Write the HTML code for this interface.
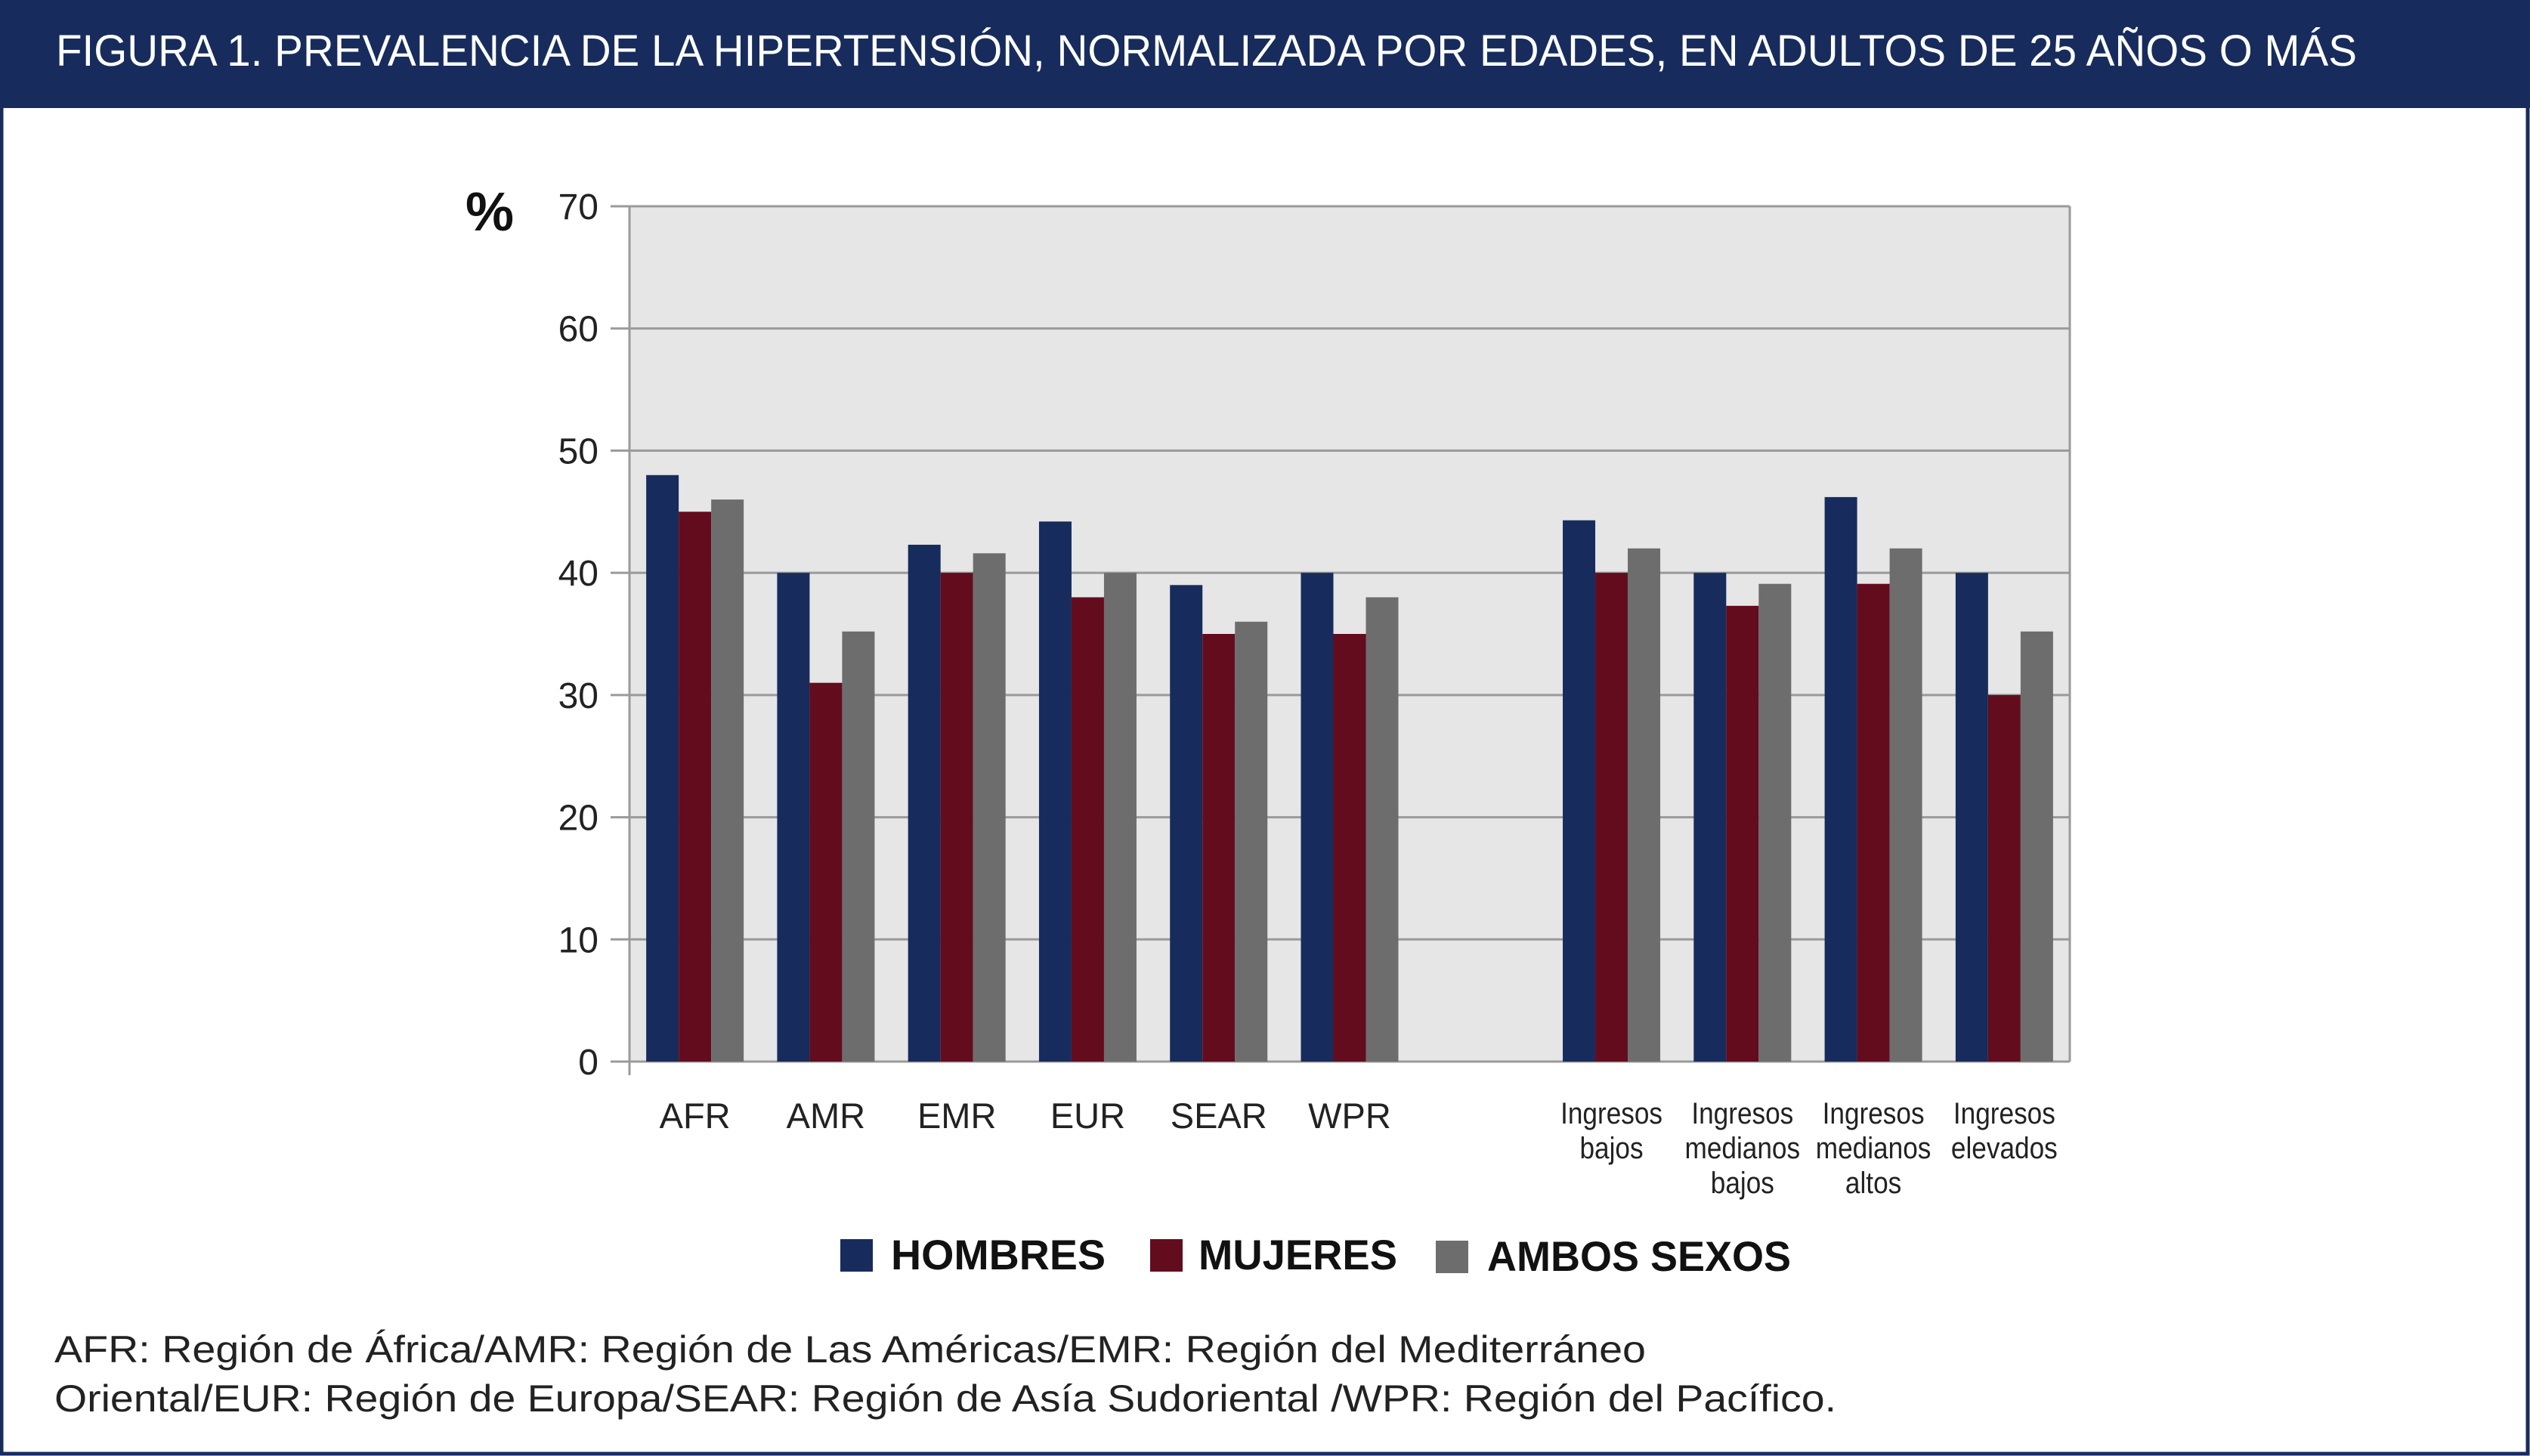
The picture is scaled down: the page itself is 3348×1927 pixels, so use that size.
<!DOCTYPE html>
<html><head><meta charset="utf-8">
<style>
html,body{margin:0;padding:0;background:#fff;}
svg{display:block;font-family:"Liberation Sans",sans-serif;}
</style></head>
<body>
<svg id="chart" width="3348" height="1927" viewBox="0 0 3348 1927" xmlns="http://www.w3.org/2000/svg">
  <rect x="0" y="0" width="3348" height="1927" fill="#fff"/>
  <rect x="2" y="2" width="3343" height="1922" fill="none" stroke="#172c5c" stroke-width="5"/>
  <rect x="0" y="0" width="3348" height="143" fill="#172c5c"/>
  <text x="74" y="87" font-size="58" fill="#fff" textLength="3045" lengthAdjust="spacingAndGlyphs">FIGURA 1. PREVALENCIA DE LA HIPERTENSIÓN, NORMALIZADA POR EDADES, EN ADULTOS DE 25 AÑOS O MÁS</text>
  <rect x="833" y="273" width="1906" height="1132" fill="#e6e6e6"/>
  <g id="grid"></g>
  <g id="bars"></g>
  <g id="axes"></g>
  <text x="616" y="305" font-size="72" font-weight="bold" fill="#111">%</text>
  <g>
    <rect x="1112" y="1640" width="43" height="43" fill="#172c5c"/>
    <text x="1179" y="1680" font-size="56" font-weight="bold" fill="#111" textLength="284" lengthAdjust="spacingAndGlyphs">HOMBRES</text>
    <rect x="1522" y="1640" width="43" height="43" fill="#630c1e"/>
    <text x="1586" y="1680" font-size="56" font-weight="bold" fill="#111" textLength="263" lengthAdjust="spacingAndGlyphs">MUJERES</text>
    <rect x="1900" y="1642" width="43" height="43" fill="#6d6d6d"/>
    <text x="1968" y="1682" font-size="56" font-weight="bold" fill="#111" textLength="402" lengthAdjust="spacingAndGlyphs">AMBOS SEXOS</text>
  </g>
  <text x="72" y="1803" font-size="50" fill="#222" textLength="2106" lengthAdjust="spacingAndGlyphs">AFR: Región de África/AMR: Región de Las Américas/EMR: Región del Mediterráneo</text>
  <text x="72" y="1868" font-size="50" fill="#222" textLength="2358" lengthAdjust="spacingAndGlyphs">Oriental/EUR: Región de Europa/SEAR: Región de Asía Sudoriental /WPR: Región del Pacífico.</text>
</svg>
<script>
const categories = [["AFR"],["AMR"],["EMR"],["EUR"],["SEAR"],["WPR"],[],["Ingresos","bajos"],["Ingresos","medianos","bajos"],["Ingresos","medianos","altos"],["Ingresos","elevados"]];
const hombres = [48,40,42.3,44.2,39,40,null,44.3,40,46.2,40];
const mujeres = [45,31,40,38,35,35,null,40,37.3,39.1,30];
const ambos = [46,35.2,41.6,40,36,38,null,42,39.1,42,35.2];
const yTicks = [0,10,20,30,40,50,60,70];

const NS="http://www.w3.org/2000/svg";
const X0=833,X1=2739,Y0=1405,Y1=273,YMAX=70;
const slot=(X1-X0)/categories.length;
const bw=43;
function y(v){return Y0-(v/YMAX)*(Y0-Y1);}
function xc(i){return X0+slot*(i+0.5);}
function mk(tag,attrs,parent){const e=document.createElementNS(NS,tag);for(const k in attrs)e.setAttribute(k,attrs[k]);parent.appendChild(e);return e;}
const grid=document.getElementById('grid'),bars=document.getElementById('bars'),axes=document.getElementById('axes');
yTicks.forEach(t=>{
  const l=mk('line',{x1:808,x2:X1,y1:y(t),y2:y(t),stroke:'#9a9a9a','stroke-width':3},grid);
  
  
  const tx=mk('text',{x:792,y:y(t)+17,'font-size':48,'text-anchor':'end',fill:'#222'},axes);
  tx.textContent=t;
  
  
});
const ax=mk('line',{x1:X0,x2:X0,y1:Y1,y2:Y0+18,stroke:'#9a9a9a','stroke-width':3},axes);


const rb=mk('line',{x1:X1,x2:X1,y1:Y1,y2:Y0,stroke:'#9a9a9a','stroke-width':3},axes);


const series=[[hombres,'#172c5c','hombres'],[mujeres,'#630c1e','mujeres'],[ambos,'#6d6d6d','ambos']];
categories.forEach((c,i)=>{
  series.forEach((s,j)=>{
    const v=s[0][i]; if(v==null) return;
    const r=mk('rect',{x:xc(i)-1.5*bw+j*bw,y:y(v),width:bw,height:Y0-y(v),fill:s[1]},bars);
    
    
  });
  if(!c.length) return;
  const multi=c.length>1;
  c.forEach((line,k)=>{
    const t=mk('text',{x:xc(i),y:multi?1487+k*46:1493,'font-size':multi?40:47,'text-anchor':'middle',fill:'#222'},axes);
    if(multi) t.setAttribute('transform','translate('+xc(i)+',0) scale(0.88,1) translate('+(-xc(i))+',0)');
    t.textContent=line;
    
    
  });
});
</script>
</body></html>
